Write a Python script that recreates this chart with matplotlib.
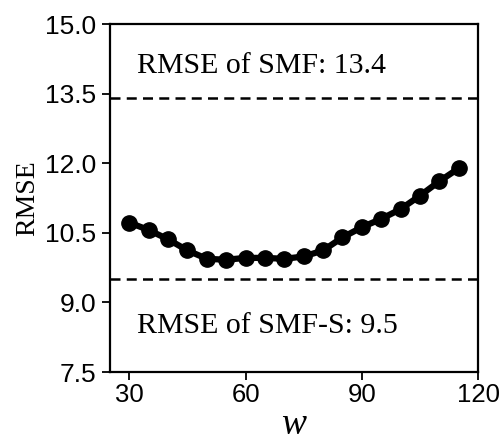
import matplotlib
matplotlib.use("Agg")
import matplotlib.pyplot as plt

w_values = [30, 35, 40, 45, 50, 55, 60, 65, 70, 75, 80, 85, 90, 95, 100, 105, 110, 115]
rmse_values = [10.72, 10.56, 10.36, 10.12, 9.94, 9.92, 9.96, 9.96, 9.94, 9.99,
               10.12, 10.40, 10.62, 10.80, 11.01, 11.30, 11.61, 11.89]
rmse_smf = 13.4
rmse_smf_s = 9.5
x_ticks = [30, 60, 90, 120]
y_ticks = [7.5, 9.0, 10.5, 12.0, 13.5, 15.0]

fig = plt.figure(figsize=(4.99, 4.45), dpi=100)
ax = fig.add_axes([0.2204, 0.164, 0.958 - 0.2204, 0.946 - 0.164])

ax.axhline(rmse_smf, color="black", linestyle=(0, (4, 2.5)), linewidth=1.8)
ax.axhline(rmse_smf_s, color="black", linestyle=(0, (4, 2.5)), linewidth=1.8)
ax.plot(w_values, rmse_values, color="black", linewidth=4.5, marker="o", markersize=11)

ax.text(32, 14.1, f"RMSE of SMF: {rmse_smf}", family="Liberation Serif", fontsize=21.5,
        va="center", ha="left")
ax.text(32, 8.5, f"RMSE of SMF-S: {rmse_smf_s}", family="Liberation Serif", fontsize=21.5,
        va="center", ha="left")

ax.set_xlim(25, 120)
ax.set_ylim(7.5, 15.0)
ax.set_xticks(x_ticks)
ax.set_yticks(y_ticks)
ax.set_xticklabels([str(t) for t in x_ticks], family="Liberation Sans", fontsize=18.5)
ax.set_yticklabels([f"{t:.1f}" for t in y_ticks], family="Liberation Sans", fontsize=19)
ax.tick_params(axis="y", direction="out", length=6, width=1.3, pad=4)
ax.tick_params(axis="x", direction="out", length=6, width=1.3, pad=2)
for s in ax.spines.values():
    s.set_linewidth(1.6)

ax.set_ylabel("RMSE", family="Liberation Serif", fontsize=20, labelpad=3)
ax.set_xlabel("w", family="Liberation Serif", style="italic", fontsize=27, labelpad=0)

fig.savefig("out.png", dpi=100)
